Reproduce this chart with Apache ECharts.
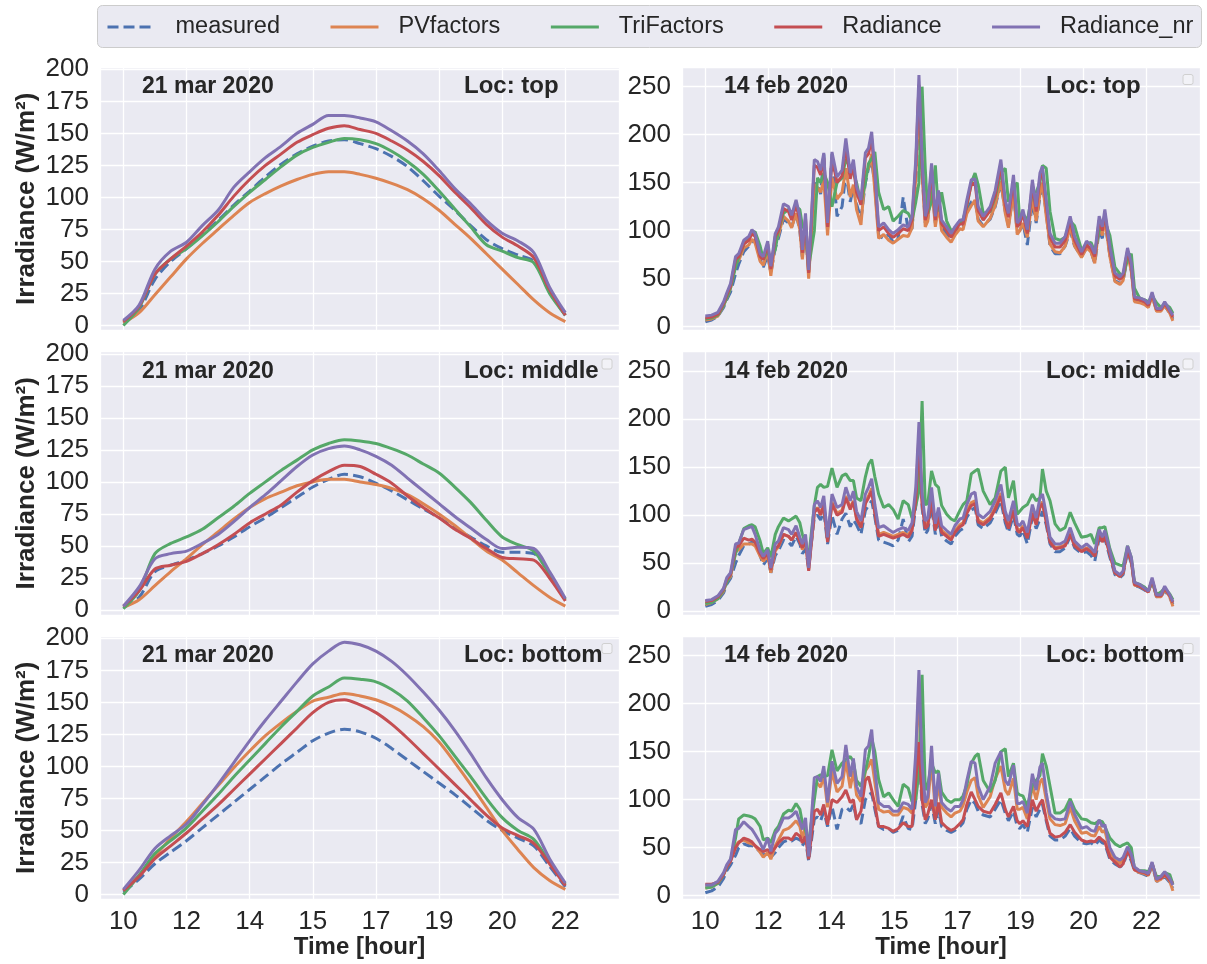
<!DOCTYPE html>
<html>
<head>
<meta charset="utf-8">
<title>Irradiance</title>
<script src="https://cdn.jsdelivr.net/npm/echarts@6/dist/echarts.min.js"></script>
<style>
  html, body { margin: 0; padding: 0; background: #fff; }
  #chart { width: 1207px; height: 964px; }
</style>
</head>
<body>
<div id="chart"></div>
<script>
// x is measured in tick slots: slot 0 is the "10" tick, slot 7 the "22" tick
var tickLabels = ['10', '12', '14', '15', '17', '19', '20', '22'];
var seriesNames = ['measured', 'PVfactors', 'TriFactors', 'Radiance', 'Radiance_nr'];

// 21 mar 2020
var marX = [0, 0.25, 0.5, 0.75, 1, 1.25, 1.5, 1.75, 2, 2.25, 2.5, 2.75, 3, 3.25, 3.5,
  3.75, 4, 4.25, 4.5, 4.75, 5, 5.25, 5.5, 5.75, 6, 6.25, 6.5, 6.75, 7];

var marTopMeasured = [2, 12, 36, 50, 60, 71, 82, 94, 105, 116, 126, 134, 140, 144, 145, 142, 138, 132, 124, 113, 101, 90, 78, 67, 60, 55, 50, 26, 8];
var marTopPV       = [2, 10, 24, 38, 52, 64, 75, 86, 96, 103, 109, 114, 118, 120, 120, 118, 115, 111, 106, 99, 90, 79, 68, 56, 44, 32, 20, 10, 3];
var marTopTri      = [0, 14, 40, 52, 60, 70, 81, 93, 104, 114, 124, 133, 139, 143, 146, 145, 142, 136, 128, 118, 105, 91, 77, 63, 58, 53, 49, 25, 8];
var marTopRad      = [3, 15, 40, 52, 62, 73, 86, 101, 114, 125, 134, 143, 149, 154, 156, 153, 150, 144, 137, 128, 117, 104, 92, 79, 69, 62, 53, 28, 8];
var marTopRadNr    = [4, 16, 44, 58, 65, 78, 90, 108, 120, 131, 140, 150, 157, 164, 164, 162, 159, 152, 144, 134, 121, 107, 95, 82, 72, 66, 57, 30, 10];

var marMidMeasured = [2, 10, 30, 35, 39, 44, 50, 57, 65, 72, 80, 88, 96, 102, 106, 104, 99, 93, 86, 79, 72, 64, 57, 50, 45, 45, 44, 28, 8];
var marMidPV       = [2, 8, 19, 30, 40, 51, 61, 71, 80, 87, 92, 97, 100, 102, 102, 100, 98, 95, 90, 83, 75, 66, 56, 46, 39, 29, 19, 10, 3];
var marMidTri      = [1, 15, 44, 52, 57, 63, 72, 81, 91, 100, 109, 117, 125, 130, 133, 132, 130, 126, 121, 114, 107, 96, 84, 70, 57, 51, 46, 28, 8];
var marMidRad      = [3, 15, 32, 35, 38, 44, 51, 59, 68, 75, 82, 92, 101, 108, 113, 112, 106, 99, 89, 80, 72, 63, 56, 48, 41, 40, 39, 25, 7];
var marMidRadNr    = [3, 18, 40, 44, 46, 52, 59, 69, 80, 90, 101, 112, 121, 126, 128, 125, 120, 113, 103, 93, 83, 73, 64, 55, 48, 49, 48, 30, 9];

var marBotMeasured = [2, 12, 24, 33, 42, 52, 62, 72, 82, 92, 102, 111, 120, 126, 129, 127, 122, 114, 105, 96, 87, 78, 68, 58, 50, 44, 38, 22, 6];
var marBotPV       = [3, 15, 30, 44, 57, 71, 85, 99, 112, 124, 134, 143, 151, 154, 157, 155, 152, 147, 140, 131, 119, 103, 86, 68, 50, 35, 21, 11, 4];
var marBotTri      = [0, 15, 32, 42, 52, 65, 78, 92, 105, 118, 131, 143, 155, 162, 169, 168, 166, 160, 151, 138, 124, 108, 92, 75, 60, 50, 43, 25, 8];
var marBotRad      = [3, 14, 28, 38, 48, 59, 70, 82, 94, 106, 118, 130, 142, 150, 152, 148, 142, 133, 122, 110, 98, 86, 74, 62, 52, 46, 40, 24, 7];
var marBotRadNr    = [4, 19, 36, 46, 55, 70, 86, 103, 120, 136, 151, 166, 180, 190, 197, 195, 190, 182, 171, 158, 144, 128, 110, 91, 74, 60, 51, 28, 9];

// 14 feb 2020 (uneven sampling, points at the peaks and dips)
var febX = [
  0, 0.1, 0.2, 0.29, 0.34, 0.4, 0.48, 0.53, 0.61, 0.69,
  0.74, 0.79, 0.87, 0.92, 0.99, 1.04, 1.11, 1.16, 1.24, 1.32,
  1.37, 1.44, 1.5, 1.54, 1.59, 1.64, 1.73, 1.78, 1.83, 1.88,
  1.94, 2.01, 2.09, 2.17, 2.23, 2.3, 2.35, 2.4, 2.47, 2.54,
  2.59, 2.64, 2.69, 2.75, 2.83, 2.91, 2.98, 3.06, 3.14, 3.22,
  3.28, 3.34, 3.39, 3.44, 3.49, 3.53, 3.59, 3.65, 3.7, 3.75,
  3.83, 3.9, 3.96, 4.04, 4.09, 4.15, 4.22, 4.28, 4.33, 4.41,
  4.52, 4.6, 4.69, 4.76, 4.81, 4.89, 4.95, 4.99, 5.04, 5.11,
  5.19, 5.25, 5.31, 5.35, 5.41, 5.47, 5.55, 5.63, 5.71, 5.79,
  5.86, 5.97, 6.05, 6.12, 6.18, 6.25, 6.3, 6.34, 6.42, 6.5,
  6.58, 6.63, 6.7, 6.76, 6.81, 6.89, 6.97, 7.03, 7.09, 7.16,
  7.23, 7.29, 7.37, 7.42];

var febTopMeasured = [
  5, 7, 11, 20, 28, 36, 55, 65, 78, 84,
  88, 90, 70, 62, 74, 56, 82, 92, 112, 108,
  104, 118, 100, 72, 98, 55, 148, 150, 138, 180,
  100, 180, 115, 125, 160, 130, 145, 128, 112, 150,
  165, 172, 148, 95, 92, 96, 88, 92, 135, 100,
  102, 150, 230, 160, 108, 112, 150, 108, 128, 104,
  96, 92, 98, 104, 103, 120, 130, 132, 112, 105,
  112, 125, 150, 120, 105, 140, 98, 100, 108, 85,
  130, 108, 135, 150, 118, 84, 76, 76, 84, 100,
  84, 73, 82, 78, 66, 100, 92, 110, 74, 48,
  45, 48, 72, 58, 27, 26, 24, 22, 32, 17,
  17, 22, 14, 8];
var febTopPV = [
  7, 8, 11, 22, 30, 40, 66, 69, 82, 85,
  91, 87, 68, 64, 79, 53, 88, 95, 115, 110,
  103, 118, 101, 70, 103, 50, 148, 145, 140, 153,
  95, 155, 133, 140, 165, 135, 148, 122, 106, 160,
  165, 180, 142, 92, 96, 90, 87, 91, 95, 94,
  103, 155, 240, 160, 104, 110, 150, 104, 126, 100,
  93, 88, 95, 102, 101, 118, 126, 132, 110, 104,
  113, 126, 152, 118, 103, 140, 96, 100, 108, 93,
  135, 110, 138, 150, 115, 86, 78, 77, 84, 104,
  84, 72, 82, 78, 66, 106, 95, 112, 73, 47,
  44, 48, 75, 58, 26, 25, 23, 20, 32, 16,
  16, 22, 14, 6];
var febTopTri = [
  8, 9, 12, 22, 30, 40, 62, 72, 86, 92,
  98, 99, 84, 70, 78, 72, 80, 100, 118, 122,
  118, 125, 122, 105, 100, 62, 100, 155, 150, 160,
  150, 125, 150, 155, 175, 165, 160, 150, 128, 150,
  170, 175, 182, 140, 122, 125, 110, 115, 121, 118,
  110, 130, 150, 250, 165, 118, 130, 168, 120, 140,
  110, 100, 102, 108, 112, 125, 150, 160, 148, 118,
  120, 135, 160, 165, 130, 145, 150, 110, 118, 110,
  140, 140, 150, 168, 165, 120, 92, 90, 93, 110,
  105, 80, 85, 88, 78, 100, 108, 110, 95, 62,
  55, 52, 70, 76, 40, 30, 28, 26, 32, 25,
  20, 24, 20, 14];
var febTopRad = [
  9, 10, 13, 24, 33, 42, 70, 73, 86, 90,
  97, 94, 73, 70, 86, 60, 94, 100, 123, 120,
  111, 127, 110, 77, 113, 56, 168, 166, 158, 176,
  104, 176, 150, 157, 188, 154, 168, 140, 127, 176,
  180, 196, 158, 100, 104, 97, 93, 97, 102, 100,
  111, 168, 252, 168, 111, 120, 164, 111, 137, 107,
  100, 93, 100, 107, 107, 127, 148, 150, 121, 111,
  121, 137, 168, 127, 114, 152, 104, 107, 118, 97,
  148, 120, 155, 162, 127, 93, 83, 83, 90, 111,
  90, 75, 85, 81, 73, 111, 100, 118, 80, 53,
  49, 53, 79, 63, 29, 28, 26, 22, 34, 18,
  18, 24, 16, 10];
var febTopRadNr = [
  11, 12, 15, 26, 35, 45, 73, 76, 90, 94,
  101, 97, 76, 73, 89, 63, 97, 104, 128, 125,
  116, 132, 115, 80, 118, 59, 174, 172, 163, 181,
  108, 182, 156, 163, 196, 160, 174, 146, 132, 181,
  186, 203, 163, 104, 108, 101, 97, 101, 106, 104,
  115, 174, 262, 174, 115, 125, 170, 115, 142, 111,
  104, 97, 104, 111, 111, 132, 153, 154, 125, 115,
  125, 142, 174, 132, 118, 158, 108, 111, 122, 101,
  153, 125, 160, 167, 132, 97, 87, 87, 94, 115,
  94, 78, 89, 85, 76, 115, 104, 122, 83, 56,
  52, 56, 82, 66, 31, 30, 28, 24, 36, 19,
  19, 26, 17, 12];

var febMidMeasured = [
  5, 7, 11, 19, 28, 34, 50, 58, 68, 70,
  72, 72, 58, 48, 55, 40, 58, 63, 74, 72,
  68, 78, 70, 60, 65, 45, 98, 100, 95, 104,
  70, 100, 80, 96, 102, 88, 95, 90, 80, 105,
  110, 115, 98, 74, 72, 70, 68, 74, 96, 72,
  78, 110, 175, 108, 80, 84, 110, 80, 96, 78,
  73, 70, 78, 84, 86, 98, 105, 108, 90, 86,
  92, 102, 115, 92, 82, 100, 80, 78, 84, 70,
  98, 86, 96, 104, 90, 70, 62, 62, 66, 78,
  66, 60, 62, 58, 52, 76, 70, 76, 56, 38,
  35, 38, 62, 50, 27, 25, 22, 20, 32, 15,
  15, 22, 14, 7];
var febMidPV = [
  7, 9, 13, 21, 31, 36, 62, 64, 70, 70,
  70, 68, 57, 52, 58, 40, 63, 67, 80, 78,
  74, 82, 74, 64, 74, 43, 103, 108, 102, 112,
  74, 114, 102, 105, 120, 108, 115, 97, 88, 113,
  120, 128, 104, 80, 82, 80, 78, 80, 82, 79,
  86, 118, 185, 115, 88, 91, 120, 86, 101, 84,
  80, 76, 84, 90, 92, 104, 113, 115, 95, 92,
  98, 108, 123, 98, 88, 108, 86, 84, 89, 78,
  104, 92, 110, 114, 95, 74, 66, 67, 69, 82,
  70, 63, 66, 63, 58, 82, 74, 80, 60, 40,
  36, 40, 64, 52, 27, 26, 23, 20, 32, 15,
  15, 23, 15, 5];
var febMidTri = [
  8, 9, 13, 22, 30, 38, 60, 70, 86, 89,
  90, 88, 73, 60, 66, 56, 80, 88, 97, 94,
  96, 99, 92, 80, 70, 56, 110, 129, 132, 129,
  130, 149, 129, 141, 143, 136, 136, 118, 115, 140,
  153, 158, 140, 122, 108, 111, 106, 96, 115, 111,
  97, 110, 125, 219, 111, 112, 146, 132, 129, 110,
  101, 96, 94, 105, 111, 115, 143, 146, 148, 125,
  111, 118, 146, 150, 118, 136, 101, 104, 108, 111,
  122, 115, 118, 148, 125, 115, 91, 84, 87, 103,
  92, 77, 78, 80, 70, 87, 87, 88, 65, 50,
  48, 47, 68, 56, 30, 28, 25, 21, 31, 17,
  20, 24, 18, 12];
var febMidRad = [
  10, 11, 15, 23, 33, 38, 66, 68, 76, 74,
  75, 72, 60, 55, 60, 43, 65, 68, 80, 78,
  74, 82, 72, 66, 74, 42, 103, 107, 100, 111,
  72, 112, 100, 103, 118, 106, 114, 96, 87, 112,
  118, 125, 102, 78, 80, 78, 76, 78, 80, 77,
  84, 116, 180, 112, 86, 89, 116, 84, 99, 82,
  78, 74, 82, 88, 90, 102, 110, 112, 93, 90,
  96, 106, 120, 96, 86, 105, 84, 82, 87, 76,
  102, 90, 108, 112, 93, 72, 65, 66, 68, 80,
  68, 62, 65, 62, 57, 80, 72, 78, 59, 40,
  36, 40, 64, 52, 28, 26, 23, 20, 33, 16,
  16, 24, 16, 9];
var febMidRadNr = [
  11, 12, 16, 24, 35, 40, 70, 71, 85, 87,
  88, 80, 63, 57, 64, 45, 70, 73, 87, 85,
  80, 89, 77, 70, 80, 45, 111, 115, 108, 120,
  77, 122, 108, 111, 129, 115, 125, 104, 94, 122,
  129, 138, 111, 87, 89, 85, 82, 85, 87, 84,
  92, 129, 197, 122, 94, 97, 129, 91, 108, 89,
  84, 80, 89, 96, 97, 111, 122, 124, 101, 97,
  104, 115, 132, 104, 94, 115, 91, 89, 94, 82,
  111, 97, 118, 122, 101, 77, 70, 70, 73, 87,
  73, 66, 70, 66, 61, 85, 77, 84, 63, 42,
  38, 42, 68, 56, 30, 28, 24, 21, 35, 17,
  17, 26, 17, 10];

var febBotMeasured = [
  3, 5, 9, 18, 26, 32, 42, 50, 54, 52,
  52, 50, 46, 42, 45, 40, 45, 50, 56, 58,
  57, 60, 58, 52, 58, 36, 80, 82, 78, 88,
  72, 93, 69, 90, 92, 88, 95, 80, 75, 100,
  105, 107, 90, 72, 69, 70, 66, 68, 83, 70,
  69, 100, 150, 95, 75, 80, 95, 75, 90, 72,
  68, 66, 68, 72, 76, 90, 100, 96, 88, 84,
  82, 90, 100, 86, 78, 88, 72, 70, 74, 66,
  92, 82, 90, 95, 78, 62, 58, 58, 62, 70,
  62, 55, 54, 55, 52, 58, 55, 54, 38, 33,
  30, 32, 45, 36, 26, 24, 22, 20, 32, 15,
  16, 20, 14, 8];
var febBotPV = [
  8, 9, 13, 22, 30, 36, 52, 56, 58, 55,
  54, 52, 45, 40, 45, 38, 52, 58, 68, 70,
  73, 78, 72, 60, 72, 40, 115, 117, 113, 125,
  92, 130, 108, 114, 140, 112, 130, 105, 98, 130,
  135, 142, 118, 90, 87, 88, 84, 84, 92, 90,
  86, 138, 220, 128, 92, 96, 140, 88, 118, 92,
  86, 82, 86, 88, 94, 108, 120, 123, 104, 92,
  103, 122, 135, 110, 105, 122, 90, 90, 92, 80,
  115, 100, 118, 122, 100, 80, 74, 73, 75, 92,
  78, 65, 66, 63, 62, 72, 66, 68, 46, 37,
  34, 37, 47, 40, 27, 24, 23, 21, 33, 15,
  17, 22, 15, 5];
var febBotTri = [
  8, 9, 13, 22, 30, 37, 60, 80, 84, 83,
  82, 80, 72, 58, 60, 55, 68, 72, 85, 89,
  88, 96, 90, 76, 68, 55, 100, 124, 126, 124,
  125, 152, 130, 138, 142, 145, 140, 120, 114, 130,
  145, 164, 150, 121, 103, 107, 100, 93, 116, 112,
  98, 100, 130, 230, 110, 115, 138, 128, 130, 108,
  100, 97, 100, 100, 104, 115, 138, 145, 148, 120,
  108, 120, 150, 153, 124, 138, 107, 105, 104, 93,
  115, 120, 125, 148, 135, 114, 86, 86, 90, 101,
  90, 80, 79, 76, 75, 78, 77, 72, 60, 54,
  51, 53, 55, 50, 28, 26, 26, 25, 33, 20,
  20, 24, 22, 12];
var febBotRad = [
  12, 12, 14, 22, 30, 36, 50, 55, 60, 58,
  56, 52, 48, 46, 48, 44, 50, 55, 60, 60,
  58, 65, 62, 55, 62, 38, 88, 90, 84, 95,
  74, 100, 97, 103, 110, 97, 100, 79, 88, 120,
  124, 110, 95, 72, 72, 70, 67, 70, 76, 72,
  72, 120, 160, 100, 79, 85, 100, 79, 97, 76,
  71, 68, 70, 75, 79, 95, 108, 100, 93, 88,
  86, 95, 107, 90, 82, 93, 78, 75, 78, 72,
  100, 88, 96, 100, 80, 65, 61, 62, 66, 74,
  66, 58, 56, 57, 56, 61, 58, 56, 40, 35,
  30, 33, 48, 38, 27, 25, 24, 22, 34, 17,
  18, 22, 16, 13];
var febBotRadNr = [
  11, 11, 15, 24, 32, 38, 69, 70, 77, 72,
  69, 64, 55, 48, 60, 46, 65, 69, 81, 81,
  83, 88, 77, 69, 81, 41, 123, 124, 119, 135,
  97, 140, 117, 124, 157, 124, 143, 114, 103, 152,
  156, 173, 131, 97, 93, 93, 88, 88, 97, 95,
  90, 149, 235, 138, 97, 103, 156, 93, 128, 97,
  91, 88, 93, 93, 100, 120, 140, 138, 114, 100,
  114, 138, 150, 120, 115, 136, 96, 96, 98, 86,
  127, 110, 134, 138, 107, 85, 80, 79, 80, 98,
  85, 70, 72, 68, 67, 79, 72, 74, 50, 40,
  37, 40, 51, 43, 30, 26, 25, 23, 35, 17,
  20, 25, 18, 11];

var panels = [
  { row: 0, col: 0, x: marX, date: '21 mar 2020', loc: 'Loc: top',    ys: [marTopMeasured, marTopPV, marTopTri, marTopRad, marTopRadNr] },
  { row: 0, col: 1, x: febX, date: '14 feb 2020', loc: 'Loc: top',    ys: [febTopMeasured, febTopPV, febTopTri, febTopRad, febTopRadNr] },
  { row: 1, col: 0, x: marX, date: '21 mar 2020', loc: 'Loc: middle', ys: [marMidMeasured, marMidPV, marMidTri, marMidRad, marMidRadNr] },
  { row: 1, col: 1, x: febX, date: '14 feb 2020', loc: 'Loc: middle', ys: [febMidMeasured, febMidPV, febMidTri, febMidRad, febMidRadNr] },
  { row: 2, col: 0, x: marX, date: '21 mar 2020', loc: 'Loc: bottom', ys: [marBotMeasured, marBotPV, marBotTri, marBotRad, marBotRadNr] },
  { row: 2, col: 1, x: febX, date: '14 feb 2020', loc: 'Loc: bottom', ys: [febBotMeasured, febBotPV, febBotTri, febBotRad, febBotRadNr] }
];

var colors = ['#4C72B0', '#DD8452', '#55A868', '#C44E52', '#8172B3'];
var font = 'Liberation Sans';
var ink = '#262626';
var colLeft = [100, 682];
var colWidth = [519, 518];
var rowTop = [67, 351.5, 636];
var rowHeight = 263.5;
var yMin = [-3.9, -4];
var yMax = [201.8, 270.5];
var yStep = [25, 50];

var grids = [], xAxes = [], yAxes = [], series = [], graphics = [];

// legend frame
graphics.push({
  type: 'rect', z: 0,
  shape: { x: 97.5, y: 5.5, width: 1104, height: 42, r: 5 },
  style: { fill: '#EAEAF2', stroke: '#CCCCCC', lineWidth: 1 }
});

panels.forEach(function (p, i) {
  var left = colLeft[p.col], top = rowTop[p.row];
  grids.push({
    left: left, top: top, width: colWidth[p.col], height: rowHeight,
    show: true, backgroundColor: '#EAEAF2', borderWidth: 0
  });

  xAxes.push({
    type: 'value', gridIndex: i,
    min: -0.37, max: 7.85, minInterval: 1, maxInterval: 1,
    axisLine: { show: false }, axisTick: { show: false },
    splitLine: { show: true, lineStyle: { color: '#ffffff', width: 1.3 } },
    axisLabel: {
      show: p.row === 2, showMinLabel: false, showMaxLabel: false,
      margin: 9, fontSize: 26, fontFamily: font, color: ink,
      formatter: function (v) {
        var k = Math.round(v);
        return (Math.abs(v - k) < 1e-6 && tickLabels[k]) ? tickLabels[k] : '';
      }
    },
    name: p.row === 2 ? 'Time [hour]' : '',
    nameLocation: 'middle', nameGap: 36,
    nameTextStyle: { fontSize: 24, fontWeight: 'bold', fontFamily: font, color: ink }
  });

  var step = yStep[p.col];
  yAxes.push({
    type: 'value', gridIndex: i,
    min: yMin[p.col], max: yMax[p.col], minInterval: step, maxInterval: step,
    axisLine: { show: false }, axisTick: { show: false },
    splitLine: { show: true, lineStyle: { color: '#ffffff', width: 1.3 } },
    axisLabel: {
      showMinLabel: false, showMaxLabel: false,
      margin: 11, fontSize: 26, fontFamily: font, color: ink,
      formatter: function (v) {
        return (Math.abs(v / step - Math.round(v / step)) < 1e-6) ? String(Math.round(v)) : '';
      }
    },
    name: p.col === 0 ? 'Irradiance (W/m²)' : '',
    nameLocation: 'middle', nameGap: 60,
    nameTextStyle: { fontSize: 26, fontWeight: 'bold', fontFamily: font, color: ink }
  });

  p.ys.forEach(function (vals, s) {
    series.push({
      name: seriesNames[s], type: 'line',
      xAxisIndex: i, yAxisIndex: i,
      data: p.x.map(function (x, k) { return [x, vals[k]]; }),
      showSymbol: false, symbol: 'none',
      smooth: p.col === 0 ? 0.3 : false,
      color: colors[s],
      lineStyle: { width: 3, color: colors[s], type: s === 0 ? [11, 5] : 'solid' },
      emphasis: { disabled: true }
    });
  });

  graphics.push({
    type: 'text', z: 100, x: left + 42, y: top + 19.7,
    style: { text: p.date, fontSize: 23, fontWeight: 'bold', fontFamily: font, fill: ink, verticalAlign: 'middle' }
  });
  graphics.push({
    type: 'text', z: 100, x: left + 364, y: top + 19.7,
    style: { text: p.loc, fontSize: 24, fontWeight: 'bold', fontFamily: font, fill: ink, verticalAlign: 'middle' }
  });
  // empty per-axes legend box
  if (i > 0) {
    graphics.push({
      type: 'rect', z: 100,
      shape: { x: left + colWidth[p.col] - 17, y: top + 7.5, width: 10, height: 10, r: 2 },
      style: { fill: '#F2F2F7', stroke: '#D0D0D0', lineWidth: 1 }
    });
  }
});

var myChart = echarts.init(document.getElementById('chart'));
var option = {
  animation: false,
  backgroundColor: '#ffffff',
  legend: {
    data: seriesNames,
    left: 106, top: 15, width: 1100, padding: 0,
    itemWidth: 48, itemHeight: 14, itemGap: 49,
    selectedMode: false,
    itemStyle: { opacity: 0 },
    lineStyle: { width: 3 },
    textStyle: { fontSize: 23.5, fontFamily: font, color: ink, padding: [0, 0, 0, 15] }
  },
  grid: grids,
  xAxis: xAxes,
  yAxis: yAxes,
  series: series,
  graphic: graphics
};
myChart.setOption(option);
</script>
</body>
</html>
